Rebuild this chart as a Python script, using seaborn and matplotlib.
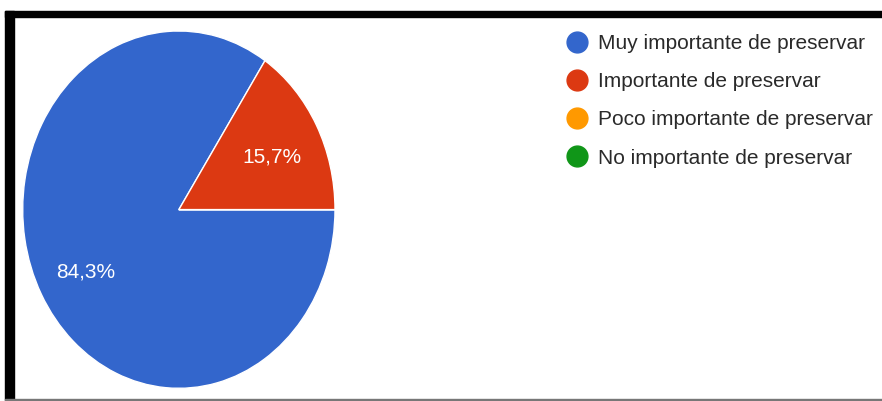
import matplotlib
matplotlib.use("Agg")
import matplotlib.pyplot as plt
import matplotlib.transforms as mtransforms
import seaborn as sns
from matplotlib.lines import Line2D
from matplotlib.patches import Rectangle

# Data
categories = ["Muy importante de preservar", "Importante de preservar",
              "Poco importante de preservar", "No importante de preservar"]
shares = [84.3, 15.7, 0.0, 0.0]
colors = ["#3366CC", "#DC3912", "#FF9900", "#109618"]

sns.set_theme(style="white")
plt.rcParams['font.family'] = ['Liberation Sans', 'DejaVu Sans']

W, H = 882, 401
fig = plt.figure(figsize=(W / 100, H / 100), dpi=100)
fig.patch.set_facecolor("white")

# Pie axes (the reference pie is stretched vertically, so aspect is left free)
ax = fig.add_axes([22.7 / W, 12.7 / H, 312.3 / W, 357.3 / H])


def pct_label(pct):
    # Comma decimal separator, hide the empty slices
    if pct < 1:
        return ""
    return f"{pct:.1f}%".replace(".", ",")


wedges, texts, autotexts = ax.pie(
    shares, colors=colors, startangle=0, counterclock=False,
    autopct=pct_label, pctdistance=0.68,
    wedgeprops=dict(edgecolor="white", linewidth=1),
    textprops=dict(color="white", fontsize=15),
)
ax.set_aspect("auto")
ax.set_xlim(-1.0, 1.0)
ax.set_ylim(-1.0, 1.0)
ax.axis("off")

# nudge the percentage labels a few pixels down
nudge = mtransforms.ScaledTranslation(0, -5 / 100, fig.dpi_scale_trans)
for t in autotexts:
    t.set_transform(ax.transData + nudge)

# Legend with round markers
handles = [Line2D([], [], marker="o", ls="", markersize=15, color=c) for c in colors]
fig.legend(handles, categories, loc="upper left",
           bbox_to_anchor=(567 / W, 1 - 34 / H), frameon=False,
           fontsize=15, labelcolor="#2a2a2a", handlelength=1.0,
           handletextpad=0.5, labelspacing=0.92, borderpad=0, borderaxespad=0)

# Black frame of the screenshot
fig.add_artist(Rectangle((5 / W, 1 - 17 / H), (W - 5) / W, 6 / H,
                         color="black", transform=fig.transFigure))
fig.add_artist(Rectangle((5 / W, 1 / H), 9 / W, (H - 12) / H,
                         color="black", transform=fig.transFigure))
fig.add_artist(Rectangle((5 / W, 0), (W - 5) / W, 2 / H,
                         color="#777777", transform=fig.transFigure))

plt.savefig("out.png", dpi=100)
